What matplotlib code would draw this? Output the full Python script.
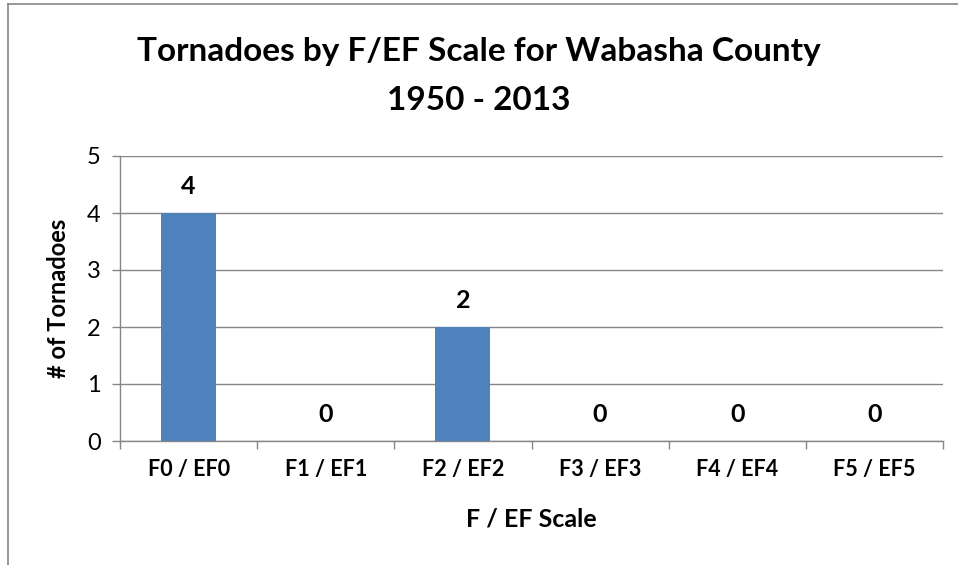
import matplotlib
matplotlib.use("Agg")
import matplotlib.pyplot as plt
from matplotlib.lines import Line2D

# data
categories = ["F0 / EF0", "F1 / EF1", "F2 / EF2", "F3 / EF3", "F4 / EF4", "F5 / EF5"]
counts = [4, 0, 2, 0, 0, 0]
yticks = [0, 1, 2, 3, 4, 5]
title1 = "Tornadoes by F/EF Scale for Wabasha County"
title2 = "1950 - 2013"

plt.rcParams['font.family'] = ['Lato', 'DejaVu Sans']

W, H = 958, 565
fig = plt.figure(figsize=(W / 100, H / 100), dpi=100)
ax = fig.add_axes([120 / W, 1 - 441 / H, (943 - 120) / W, (441 - 156) / H])

x = list(range(len(categories)))
ax.bar(x, counts, width=0.4, color="#4F81BD", zorder=3)
for xi, v in zip(x, counts):
    ax.text(xi, v + 0.26, str(v), ha="center", va="bottom",
            fontsize=18, fontweight="bold")

ax.set_xlim(-0.5, len(categories) - 0.5)
ax.set_ylim(0, 5)
ax.set_yticks(yticks)
ax.set_yticklabels([str(t) for t in yticks], fontsize=17)
ax.yaxis.grid(True, color="#868686", linewidth=1)
ax.set_axisbelow(True)

ax.set_xticks(x)
ax.set_xticklabels(categories, fontsize=15.5, fontweight="bold")
ax.tick_params(axis="x", length=0, pad=13)
ax.set_xticks([i - 0.5 for i in range(len(categories) + 1)], minor=True)
ax.tick_params(axis="x", which="minor", length=6, color="#868686", width=1)
ax.tick_params(axis="y", length=6, color="#868686", width=1, pad=8)

for s in ["top", "right"]:
    ax.spines[s].set_visible(False)
for s in ["left", "bottom"]:
    ax.spines[s].set_color("#868686")
    ax.spines[s].set_linewidth(1)

ax.set_xlabel("F / EF Scale", fontsize=18, fontweight="bold", labelpad=20)
ax.set_ylabel("# of Tornadoes", fontsize=17, fontweight="bold", labelpad=12)

fig.text(0.5, 1 - 52 / H, title1, ha="center", va="center",
         fontsize=24, fontweight="bold")
fig.text(0.5, 1 - 100 / H, title2, ha="center", va="center",
         fontsize=24, fontweight="bold")

# chart border (left and top edges)
fig.add_artist(Line2D([8 / W, 8 / W], [0, 1 - 4 / H], transform=fig.transFigure,
                      color="#868686", linewidth=1.2))
fig.add_artist(Line2D([8 / W, 1], [1 - 4 / H, 1 - 4 / H], transform=fig.transFigure,
                      color="#868686", linewidth=1.2))

fig.savefig("out.png", dpi=100)
